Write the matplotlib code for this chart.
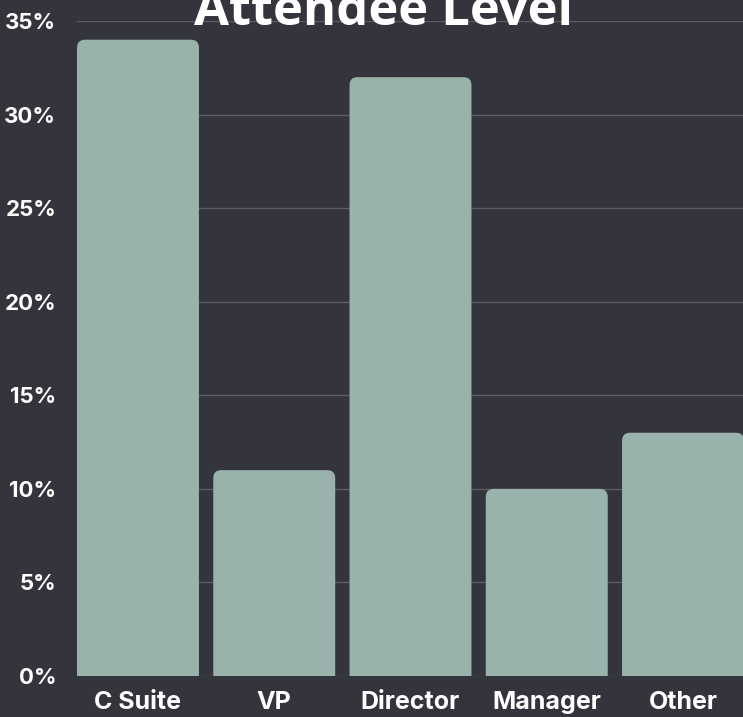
import matplotlib
matplotlib.use("Agg")
import matplotlib.pyplot as plt
from matplotlib.patches import FancyBboxPatch
from matplotlib.ticker import FuncFormatter

categories = ["C Suite", "VP", "Director", "Manager", "Other"]
values = [34, 11, 32, 10, 13]
yticks = [0, 5, 10, 15, 20, 25, 30, 35]
title = "Attendee Level"

BG = "#34343c"
BAR = "#99b2ab"
GRID = "#5c5c64"

W, H = 743, 717
fig = plt.figure(figsize=(W / 100, H / 100), dpi=100, facecolor=BG)
ax = fig.add_axes([77 / W, (H - 676) / H, 667 / W, 655 / H], facecolor=BG)

width = 0.895
ax.set_xlim(-width / 2, len(categories) - 1 + width / 2)
ax.set_ylim(0, 35)

px_per_x = 667 / (len(categories) - 1 + width)
px_per_y = 655 / 35
r = 8 / px_per_x
asp = px_per_x / px_per_y
for i, v in enumerate(values):
    p = FancyBboxPatch((i - width / 2, -2), width, v + 2,
                       boxstyle=f"round,pad=0,rounding_size={r}",
                       mutation_aspect=asp, facecolor=BAR, edgecolor="none",
                       zorder=2)
    ax.add_patch(p)

ax.set_yticks(yticks)
ax.yaxis.set_major_formatter(FuncFormatter(lambda v, p: f"{int(v)}%"))
ax.set_xticks(range(len(categories)))
ax.set_xticklabels(categories)
ax.grid(axis="y", color=GRID, linewidth=1.0, zorder=0)
ax.set_axisbelow(True)
for s in ax.spines.values():
    s.set_visible(False)
ax.tick_params(axis="both", length=0, colors="white")
ax.tick_params(axis="y", pad=15)
ax.tick_params(axis="x", pad=11)
for lab in ax.get_yticklabels():
    lab.set_fontfamily("Inter")
    lab.set_fontweight("bold")
    lab.set_fontsize(16)
    lab.set_color("white")
for lab in ax.get_xticklabels():
    lab.set_fontfamily("Inter")
    lab.set_fontweight("bold")
    lab.set_fontsize(18)
    lab.set_color("white")

fig.text(384 / W, (H - 25) / H, title, ha="center", va="baseline",
         fontsize=36.5, fontweight="bold", color="white", family="Open Sans",
         zorder=5)

fig.savefig("out.png", dpi=100, facecolor=BG)
